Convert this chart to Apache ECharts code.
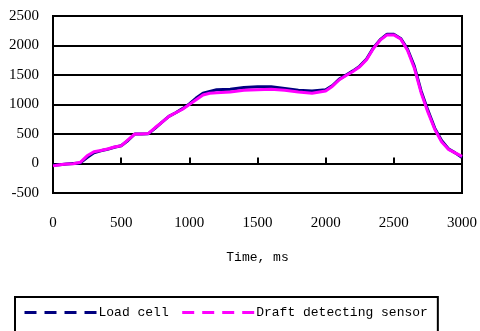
<!DOCTYPE html>
<html>
<head>
    <meta charset="UTF-8">
    <title>ECharts</title>
    <script type="text/javascript" src="https://cdn.jsdelivr.net/npm/echarts@6/dist/echarts.min.js"></script>
</head>
<body style="margin:0;">
    <div id="main" style="width:480px;height:331px;"></div>
    <script type="text/javascript">
        // 时间, ms
        var times = [0, 50, 100, 150, 200, 250, 300, 350, 400, 450, 500, 550, 600, 650, 700, 750, 800, 850, 900, 950,
            1000, 1050, 1100, 1150, 1200, 1300, 1400, 1500, 1600, 1700, 1800, 1900, 2000, 2050, 2100, 2150, 2200,
            2250, 2300, 2350, 2400, 2450, 2500, 2550, 2600, 2650, 2700, 2750, 2800, 2850, 2900, 2950, 3000];
        var loadCell = [-30, -20, -10, 0, 10, 100, 180, 215, 240, 275, 300, 390, 500, 500, 505, 600, 700, 800, 860, 930,
            1010, 1110, 1190, 1220, 1250, 1260, 1290, 1300, 1300, 1270, 1240, 1230, 1250, 1320, 1430, 1500, 1570,
            1650, 1770, 1960, 2100, 2190, 2190, 2120, 1940, 1650, 1230, 900, 600, 390, 250, 180, 100];
        var draftSensor = [-40, -20, -10, -5, 20, 130, 200, 220, 245, 280, 300, 400, 500, 500, 510, 610, 700, 800, 860, 920,
            1000, 1080, 1160, 1190, 1200, 1210, 1240, 1250, 1260, 1240, 1210, 1190, 1230, 1310, 1420, 1490, 1560,
            1640, 1760, 1950, 2090, 2180, 2180, 2110, 1920, 1620, 1200, 870, 580, 370, 240, 180, 120];

        function pairs(vals) {
            var out = [];
            for (var i = 0; i < times.length; i++) {
                out.push([times[i], vals[i]]);
            }
            return out;
        }
        function plain(v) { return String(v); }

        var myChart = echarts.init(document.getElementById('main'));
        myChart.setOption({
            animation: false,
            grid: {
                left: 53, right: 16, top: 16, bottom: 138,
                show: true, borderColor: '#000', borderWidth: 2, backgroundColor: 'transparent'
            },
            legend: {
                left: 15, top: 297,
                padding: [9, 10, 20, 8],
                borderColor: '#000', borderWidth: 2,
                itemWidth: 72, itemHeight: 10, itemGap: 12,
                data: ['Load cell', 'Draft detecting sensor'],
                itemStyle: { opacity: 0 },
                lineStyle: { type: [12, 8], width: 3 },
                textStyle: { fontFamily: 'Liberation Mono', fontSize: 13, color: '#000', padding: [0, 0, 0, -3] }
            },
            xAxis: [{
                type: 'value', min: 0, max: 3000, interval: 500, position: 'bottom',
                name: 'Time, ms', nameLocation: 'middle', nameGap: 58,
                nameTextStyle: { fontFamily: 'Liberation Mono', fontSize: 13, color: '#000' },
                axisLine: { show: false, onZero: false }, axisTick: { show: false }, splitLine: { show: false },
                axisLabel: { margin: 23, fontFamily: 'Liberation Serif', fontSize: 15, color: '#000', formatter: plain }
            }, {
                type: 'value', min: 0, max: 3000, interval: 500, position: 'bottom',
                axisLine: { show: true, onZero: true, lineStyle: { color: '#000', width: 2 } },
                axisTick: { show: true, inside: true, length: 6, lineStyle: { color: '#000', width: 2 } },
                axisLabel: { show: false }, splitLine: { show: false }
            }],
            yAxis: {
                type: 'value', min: -500, max: 2500, interval: 500,
                axisLine: { show: false }, axisTick: { show: false },
                splitLine: { lineStyle: { color: '#000', width: 2 } },
                axisLabel: { margin: 14, fontFamily: 'Liberation Serif', fontSize: 15, color: '#000', formatter: plain }
            },
            series: [{
                name: 'Load cell', type: 'line', data: pairs(loadCell),
                showSymbol: false, symbol: 'none',
                lineStyle: { color: '#000080', width: 3 }, itemStyle: { color: '#000080' }
            }, {
                name: 'Draft detecting sensor', type: 'line', data: pairs(draftSensor),
                showSymbol: false, symbol: 'none',
                lineStyle: { color: '#ff00ff', width: 3 }, itemStyle: { color: '#ff00ff' }
            }]
        });
    </script>
</body>
</html>
